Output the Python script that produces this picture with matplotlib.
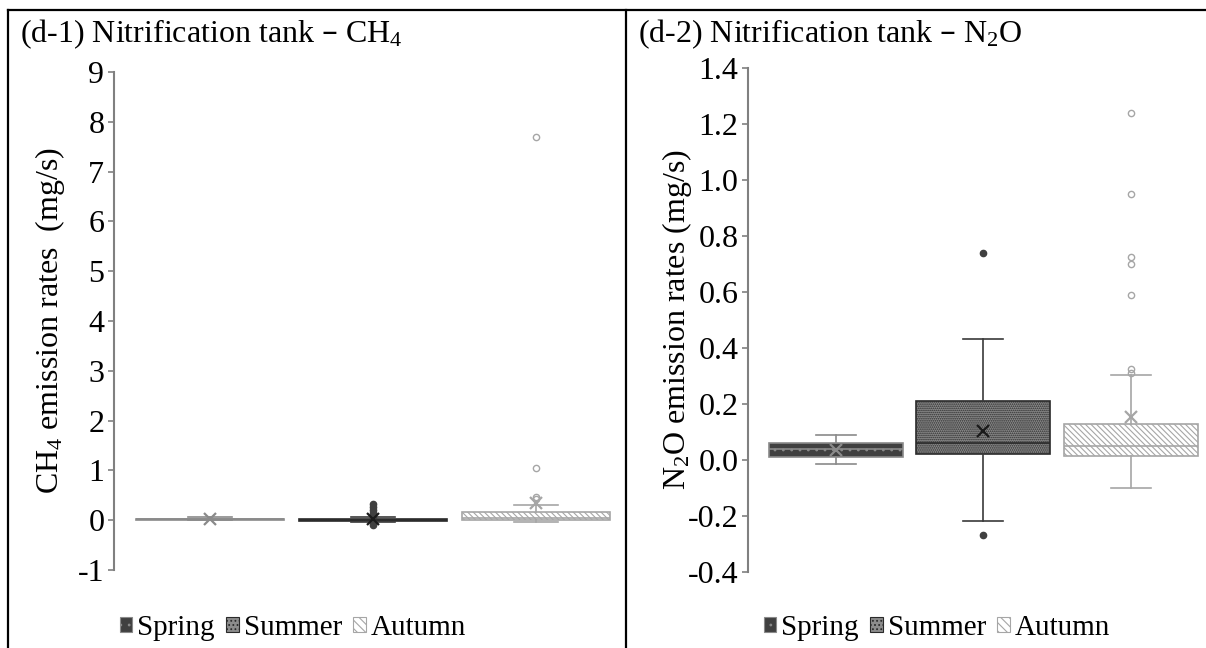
import matplotlib
matplotlib.use("Agg")
import matplotlib.pyplot as plt
from matplotlib.patches import Patch
from matplotlib.lines import Line2D

plt.rcParams['font.family'] = ['Liberation Serif', 'DejaVu Serif']
plt.rcParams['mathtext.default'] = 'regular'
plt.rcParams['hatch.linewidth'] = 0.8

seasons = ["Spring", "Summer", "Autumn"]

# CH4 emission rates (mg/s): box statistics per season
ch4_whislo = [0.00, -0.04, -0.03]
ch4_q1 = [0.01, -0.01, 0.00]
ch4_med = [0.02, 0.01, 0.05]
ch4_q3 = [0.03, 0.03, 0.16]
ch4_whishi = [0.06, 0.06, 0.30]
ch4_mean = [0.03, 0.02, 0.35]
ch4_fliers = [[], [-0.10, -0.06, 0.05, 0.10, 0.15, 0.20, 0.27, 0.32], [0.43, 0.47, 1.05, 7.70]]

# N2O emission rates (mg/s)
n2o_whislo = [-0.014, -0.218, -0.099]
n2o_q1 = [0.010, 0.021, 0.015]
n2o_med = [0.040, 0.060, 0.051]
n2o_q3 = [0.060, 0.212, 0.130]
n2o_whishi = [0.089, 0.432, 0.302]
n2o_mean = [0.036, 0.104, 0.155]
n2o_fliers = [[], [-0.268, 0.739], [0.31, 0.325, 0.59, 0.70, 0.725, 0.95, 1.24]]

ch4_ticks = [-1, 0, 1, 2, 3, 4, 5, 6, 7, 8, 9]
n2o_ticks = [-0.4, -0.2, 0.0, 0.2, 0.4, 0.6, 0.8, 1.0, 1.2, 1.4]

styles = [
    dict(face='#404040', edge='#8a8a8a', hatch='..', line='#8a8a8a', mean='#8a8a8a', fl_face='#8a8a8a', fl_edge='#8a8a8a'),
    dict(face='#8c8c8c', edge='#2a2a2a', hatch='........', line='#3a3a3a', mean='#1a1a1a', fl_face='#404040', fl_edge='#404040'),
    dict(face='#ffffff', edge='#a6a6a6', hatch='\\\\\\\\\\\\', line='#a6a6a6', mean='#a6a6a6', fl_face='none', fl_edge='#a6a6a6'),
]

W, H = 1206, 648
fig = plt.figure(figsize=(W / 100, H / 100), dpi=100)

FS = 23
LFS = 21


def px_axes(l, t, r, b):
    return fig.add_axes([l / W, (H - b) / H, (r - l) / W, (b - t) / H])


def draw_panel(ax, whislo, q1, med, q3, whishi, mean, fliers, ylim, ticks, fmt, xlim, ylabel, lblx):
    for i in range(3):
        st = styles[i]
        stats = [dict(whislo=whislo[i], q1=q1[i], med=med[i], q3=q3[i], whishi=whishi[i],
                      mean=mean[i], fliers=fliers[i])]
        ax.bxp(stats, positions=[i], widths=0.91, patch_artist=True, showmeans=True,
               showfliers=True, manage_ticks=False,
               boxprops=dict(facecolor=st['face'], edgecolor=st['edge'], hatch=st['hatch'], linewidth=1.2),
               whiskerprops=dict(color=st['line'], linewidth=1.2),
               capprops=dict(color=st['line'], linewidth=1.2),
               capwidths=0.27,
               medianprops=dict(color=st['edge'], linewidth=1.2),
               meanprops=dict(marker='x', markeredgecolor=st['mean'], markersize=8, markeredgewidth=1.6),
               flierprops=dict(marker='o', markerfacecolor=st['fl_face'], markeredgecolor=st['fl_edge'],
                               markersize=4.5, markeredgewidth=1.0))
    ax.set_ylim(*ylim)
    ax.set_xlim(*xlim)
    ax.set_yticks(ticks)
    ax.set_yticklabels([fmt(t) for t in ticks], fontsize=FS)
    ax.set_xticks([])
    for s in ['top', 'right', 'bottom']:
        ax.spines[s].set_visible(False)
    ax.spines['left'].set_color('#808080')
    ax.spines['left'].set_linewidth(1.5)
    ax.tick_params(axis='y', direction='out', length=4, width=1.2, color='#808080', pad=3)
    ax.set_ylabel(ylabel, fontsize=FS)
    ax.yaxis.set_label_coords(lblx, 0.5)
    ax.patch.set_alpha(0)


ax1 = px_axes(114, 72, 615, 570)
draw_panel(ax1, ch4_whislo, ch4_q1, ch4_med, ch4_q3, ch4_whishi, ch4_mean, ch4_fliers,
           (-1, 9), ch4_ticks, lambda t: f"{t:d}", (-0.589, 2.485),
           "CH$_4$ emission rates  (mg/s)", -0.094)

ax2 = px_axes(748, 68, 1200, 572)
draw_panel(ax2, n2o_whislo, n2o_q1, n2o_med, n2o_q3, n2o_whishi, n2o_mean, n2o_fliers,
           (-0.4, 1.4), n2o_ticks, lambda t: f"{t:.1f}", (-0.597, 2.47),
           "N$_2$O emission rates (mg/s)", -0.12)

# titles
fig.text(20 / W, 1 - 34 / H, "(d-1) Nitrification tank – CH$_4$", fontsize=FS, va='center', ha='left')
fig.text(638 / W, 1 - 34 / H, "(d-2) Nitrification tank – N$_2$O", fontsize=FS, va='center', ha='left')

# legends
handles = [Patch(facecolor=styles[i]['face'], edgecolor=styles[i]['edge'], hatch=styles[i]['hatch'][:4], linewidth=0.8)
           for i in range(3)]
for cx in (293, 937):
    fig.legend(handles, seasons, loc='center', bbox_to_anchor=(cx / W, 1 - 628 / H), ncol=3,
               frameon=False, fontsize=LFS, handlelength=0.42, handleheight=0.42, handletextpad=0.17,
               columnspacing=0.4, borderpad=0)

# table borders
lw = 1.6
fig.add_artist(Line2D([8 / W, 1.0], [1 - 10 / H, 1 - 10 / H], color='black', linewidth=lw))
fig.add_artist(Line2D([8 / W, 8 / W], [0, 1 - 10 / H], color='black', linewidth=lw))
fig.add_artist(Line2D([626 / W, 626 / W], [0, 1 - 10 / H], color='black', linewidth=lw))

fig.savefig("out.png", dpi=100)
